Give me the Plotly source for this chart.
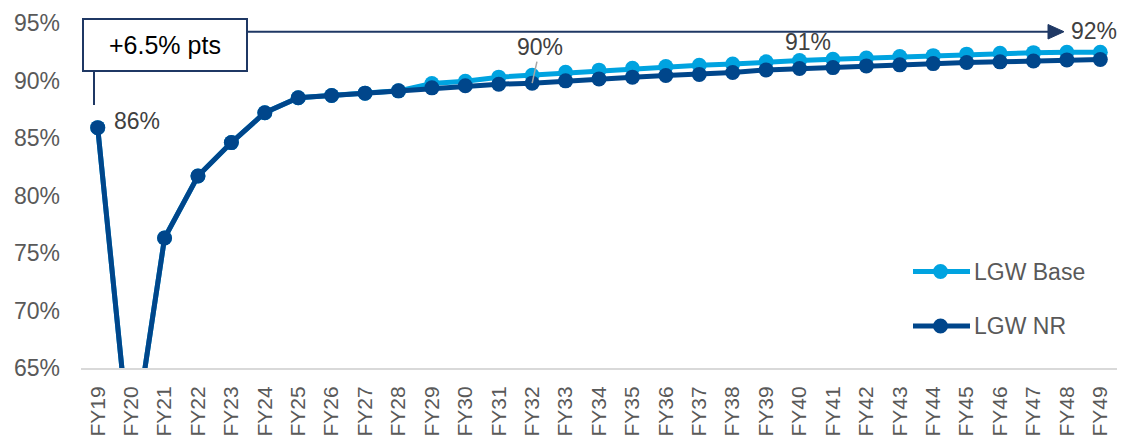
import plotly.graph_objects as go

# Fiscal years on the category axis
years = [f"FY{n}" for n in range(19, 50)]

# LGW NR scenario (%)
lgw_nr = [85.9, 57.0, 76.3, 81.7, 84.6, 87.2, 88.5, 88.7, 88.9, 89.1,
          89.36, 89.54, 89.68, 89.77, 89.97, 90.14, 90.29, 90.43, 90.53, 90.69,
          90.92, 91.04, 91.12, 91.27, 91.36, 91.47, 91.56, 91.62, 91.70, 91.79, 91.83]

# LGW Base scenario (%), identical to NR until FY28
lgw_base = [85.9, 57.0, 76.3, 81.7, 84.6, 87.2, 88.5, 88.7, 88.9, 89.1,
            89.74, 89.94, 90.29, 90.46, 90.72, 90.90, 91.07, 91.21, 91.33, 91.44,
            91.62, 91.73, 91.85, 91.96, 92.08, 92.16, 92.29, 92.37, 92.42, 92.45, 92.45]

series_names = ["LGW Base", "LGW NR"]
change_label = "+6.5% pts"

BASE_C = "#00A3E0"
NR_C = "#00468B"
NAVY = "#1F3864"
GREY_TXT = "#595959"
LABEL_TXT = "#404040"
FONT = "Liberation Sans, Arial, sans-serif"

W, H = 1127, 437
ML, MR, MT, MB = 81, 10, 23, 69
PW, PH = W - ML - MR, H - MT - MB


def px(x):
    return (x - ML) / PW


def py(y):
    return (H - MB - y) / PH


fig = go.Figure()
for name, vals, col in [(series_names[0], lgw_base, BASE_C), (series_names[1], lgw_nr, NR_C)]:
    fig.add_trace(go.Scatter(
        x=years, y=vals, name=name, mode="lines+markers",
        line=dict(color=col, width=5),
        marker=dict(color=col, size=15),
        showlegend=False,
    ))

shapes = []
annotations = []

# Change bracket: box, drop line and long arrow to FY49
shapes.append(dict(type="rect", xref="paper", yref="paper",
                   x0=px(83), x1=px(247), y0=py(71), y1=py(19),
                   line=dict(color=NAVY, width=2), fillcolor="white", layer="above"))
shapes.append(dict(type="line", xref="paper", yref="paper",
                   x0=px(94), x1=px(94), y0=py(71), y1=py(105),
                   line=dict(color=NAVY, width=2)))
shapes.append(dict(type="line", xref="paper", yref="paper",
                   x0=px(247), x1=px(1050), y0=py(31.7), y1=py(31.7),
                   line=dict(color=NAVY, width=2)))
shapes.append(dict(type="path", xref="paper", yref="paper",
                   path=f"M {px(1048)},{py(24.5)} L {px(1064)},{py(31.7)} L {px(1048)},{py(39)} Z",
                   line=dict(color=NAVY, width=1), fillcolor=NAVY))
annotations.append(dict(xref="paper", yref="paper", x=px(165), y=py(45),
                        text=change_label, showarrow=False,
                        font=dict(family=FONT, size=25, color="#000000"),
                        xanchor="center", yanchor="middle"))

# Value labels
lab_font = dict(family=FONT, size=23, color=LABEL_TXT)
annotations.append(dict(x=years[0], y=lgw_nr[0], text=f"{lgw_nr[0]:.0f}%", showarrow=False,
                        xanchor="left", yanchor="middle", xshift=14, yshift=7, font=lab_font))
i32 = years.index("FY32")
annotations.append(dict(x=years[i32], y=lgw_nr[i32], text=f"{lgw_nr[i32]:.0f}%", showarrow=True,
                        arrowhead=0, arrowwidth=1.5, arrowcolor="#A6A6A6", standoff=0,
                        ax=8, ay=-36, font=lab_font))
i40 = years.index("FY40")
annotations.append(dict(x=years[i40], y=lgw_nr[i40], text=f"{lgw_nr[i40]:.0f}%", showarrow=False,
                        xanchor="center", yanchor="middle", xshift=8, yshift=27, font=lab_font))
annotations.append(dict(x=years[-1], y=lgw_base[-1], text=f"{lgw_base[-1]:.0f}%", showarrow=False,
                        xanchor="center", yanchor="middle", xshift=-6, yshift=21, font=lab_font))

# Legend drawn as line + dot + text
for name, col, ly in [(series_names[0], BASE_C, 271.5), (series_names[1], NR_C, 326)]:
    shapes.append(dict(type="line", xref="paper", yref="paper",
                       x0=px(913), x1=px(970), y0=py(ly), y1=py(ly),
                       line=dict(color=col, width=5)))
    shapes.append(dict(type="circle", xref="paper", yref="paper",
                       x0=px(933), x1=px(948), y0=py(ly + 7.5), y1=py(ly - 7.5),
                       line=dict(color=col, width=0), fillcolor=col))
    annotations.append(dict(xref="paper", yref="paper", x=px(972), y=py(ly),
                            text=name, showarrow=False, xanchor="left", yanchor="middle",
                            font=dict(family=FONT, size=23, color=GREY_TXT)))

fig.update_layout(
    width=W, height=H,
    margin=dict(l=ML, r=MR, t=MT, b=MB, pad=0, autoexpand=False),
    paper_bgcolor="white", plot_bgcolor="white",
    font=dict(family=FONT, color=GREY_TXT),
    shapes=shapes, annotations=annotations,
    showlegend=False,
)
fig.update_xaxes(type="category", range=[-0.5, len(years) - 0.5], automargin=False,
                 showgrid=False, zeroline=False,
                 showline=True, linecolor="#D9D9D9", linewidth=2,
                 ticks="", tickangle=-90, ticklabelstandoff=8,
                 tickfont=dict(family=FONT, size=21, color=GREY_TXT))
fig.update_yaxes(range=[65, 95], dtick=5, tick0=65, ticksuffix="%", automargin=False,
                 showgrid=False, zeroline=False, showline=False, ticks="",
                 ticklabelstandoff=20,
                 tickfont=dict(family=FONT, size=23, color=GREY_TXT))

fig.write_html("out.html")
